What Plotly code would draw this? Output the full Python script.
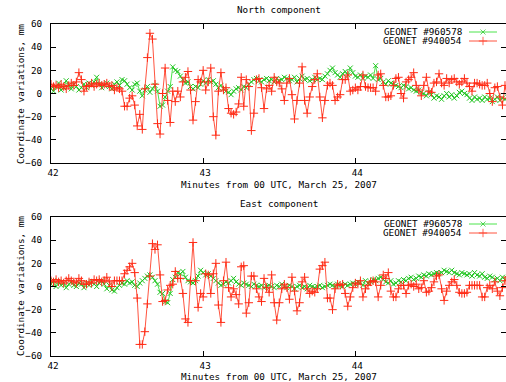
import plotly.graph_objects as go

W, H = 506, 382

# time base: one sample per second from 42:00 to 45:00 (minutes after 00 UTC)
seconds = list(range(181))
minutes = [42 + s / 60 for s in seconds]

north_960578 = [
    4, 2, 6, 9, 3, 5, 11, 7, 4, 8,
    6, 3, 5, 8, 5, 9, 7, 10, 14, 8,
    5, 7, 9, 6, 4, 8, 10, 7, 12, 11,
    8, 5, 3, 8, 9, 2, -2, 3, 6, 1,
    4, 7, 2, -11, -10, -3, 2, 6, 23, 20,
    19, 15, 12, 9, 10, 6, 4, 6, 5, 8,
    11, 9, 12, 10, 11, 8, 5, 7, 4, 2,
    1, -1, 2, 4, 5, 3, 6, 5, 8, 10,
    12, 13, 11, 10, 12, 13, 11, 12, 10, 13,
    11, 12, 14, 13, 11, 12, 14, 10, 13, 15,
    12, 13, 11, 12, 14, 12, 13, 12, 15, 17,
    20, 22, 18, 16, 14, 17, 19, 16, 22, 18,
    15, 14, 16, 13, 15, 14, 16, 13, 24, 12,
    13, 10, 8, 11, 9, 8, 7, 6, 5, 7,
    6, 4, 5, 3, 2, 3, 1, 0, -2, 1,
    -1, -4, -2, -3, -5, -2, 0, -3, -1, -4,
    -2, 1, 2, 0, -1, -4, -6, -3, -5, -4,
    -6, -3, -5, -4, -7, -5, -3, -6, -4, -5, -3,
]

north_940054 = [
    8, 6, 7, 5, 8, 6, 4, 7, 9, 7,
    10, 18, 12, 2, 6, 7, 9, 6, 8, 9,
    7, 8, 9, 6, 7, 3, 5, 4, 2, -11,
    -11, -4, -2, -10, -28, -18, -31, 4, 31, 52,
    47, 8, -26, -35, 0, 22, -6, -25, 2, -7,
    2, -3, 10, 14, 19, 3, -23, -7, 12, 10,
    20, 3, 10, 22, -20, -36, 2, 18, 3, 5,
    -13, -17, -18, -16, -9, 14, -11, 12, 6, -32,
    -17, 12, 13, 5, -13, 4, 7, 2, 14, 10,
    9, 4, -6, 9, 13, -1, -22, -6, 9, 23,
    -6, -17, -3, 6, 12, 17, -3, -21, -6, 7,
    9, 7, -6, -3, -1, 12, 12, 16, 2, 3,
    5, 3, 6, 16, 6, 5, 5, 5, 2, 16,
    17, 7, -3, -3, -2, 7, 13, 14, 0, -4,
    10, 12, 14, 18, 7, 3, -2, 7, 14, 2,
    1, 9, 10, 17, 9, 7, 13, 9, 12, 13,
    10, 8, 10, 13, 9, 6, 2, 9, 9, 8,
    7, 7, 9, 0, -7, 5, 6, -3, -10, 7, -4,
]

east_960578 = [
    2, 5, 0, 4, 1, 3, -1, 2, 4, 1,
    0, 3, 2, -1, 3, 1, 4, 2, 0, 3,
    5, 2, -2, 1, -3, -4, -1, 1, 3, 2,
    5, 3, 4, 1, 0, 3, 5, 7, 9, 10,
    8, 5, 2, -5, -6, -13, -14, -6, 6, 8,
    12, 11, 13, 8, 5, 4, 3, 5, 9, 14,
    12, 10, 11, 9, 7, 5, 3, 1, 2, 4,
    3, 5, 7, 4, 2, 1, 3, 2, 1, 0,
    2, 1, 0, 1, -1, 0, 1, 0, -1, 1,
    0, 2, 0, -1, 1, 0, -2, 0, 1, -1,
    0, -2, 1, 0, -1, 0, 1, -1, 0, 1,
    2, 1, 0, 2, 1, 0, 2, 1, 2, 3,
    2, 4, 3, 1, 5, 3, 4, 6, 5, 7,
    8, 6, 4, 3, 5, 2, 3, 5, 4, 6,
    5, 7, 8, 6, 7, 9, 8, 10, 9, 11,
    10, 11, 12, 11, 12, 14, 13, 12, 14, 12,
    11, 10, 12, 11, 10, 11, 9, 12, 10, 9,
    11, 8, 7, 9, 8, 6, 7, 5, 8, 6, 7,
]

east_940054 = [
    5, 4, 6, 4, 5, 3, 5, 7, 5, 4,
    3, 7, 5, 2, 2, 4, 3, 6, 5, 6,
    4, 5, 8, 4, 0, 5, 5, 5, 5, 11,
    14, 17, 20, 12, -10, -50, -50, -39, -15, 9,
    37, 32, 36, 10, -13, -12, -3, 1, 2, 13,
    7, 7, -6, -28, -31, 5, 38, 5, -18, -6,
    -9, 11, 10, -6, 11, 20, -16, -31, 5, 21,
    -1, -9, -2, -7, -15, 17, 18, -23, -14, 9,
    9, -2, -9, -13, 7, -1, -5, 10, -14, -29,
    -14, -2, 2, -1, -11, 8, -4, -21, -14, 4,
    8, -2, -6, -4, -5, -2, 15, 18, 21, -10,
    -10, -20, -2, 2, 1, 2, -6, -17, -9, -1,
    3, 2, 5, -9, -2, 1, 4, 5, 4, -9,
    1, 10, 7, 12, -4, -9, -9, -2, 1, 1,
    -6, 1, 2, 0, 2, -2, -1, 5, -5, -4,
    -1, 4, 9, 10, -2, -12, -4, 1, 4, 6,
    1, -5, -6, -6, -5, 1, 1, 1, 1, 1,
    -9, -9, -1, 1, -2, 4, -4, -8, -1, 5, 8,
]

series_names = ["GEONET #960578", "GEONET #940054"]
panel_titles = ["North component", "East component"]
x_title = "Minutes from 00 UTC, March 25, 2007"
y_title = "Coordinate variations, mm"
x_ticks = [42, 43, 44]
y_ticks = [-60, -40, -20, 0, 20, 40, 60]

FONT = "DejaVu Sans Mono"
FS = 9.3
GREEN_LINE, GREEN_MK = "#4ce44c", "#22c422"
RED_LINE, RED_MK = "#ff5440", "#ff2a14"

green_style = dict(mode="lines+markers",
                   line=dict(color=GREEN_LINE, width=1),
                   marker=dict(symbol="x-thin", size=5, color=GREEN_MK,
                               line=dict(color=GREEN_MK, width=1)))
red_style = dict(mode="lines+markers",
                 line=dict(color=RED_LINE, width=1),
                 marker=dict(symbol="cross-thin", size=6, color=RED_MK,
                             line=dict(color=RED_MK, width=1)))

fig = go.Figure()
panels = [("x", "y", north_960578, north_940054),
          ("x2", "y2", east_960578, east_940054)]
for xa, ya, g, r in panels:
    fig.add_trace(go.Scatter(x=minutes, y=g, xaxis=xa, yaxis=ya, name=series_names[0],
                             showlegend=False, **green_style))
    fig.add_trace(go.Scatter(x=minutes, y=r, xaxis=xa, yaxis=ya, name=series_names[1],
                             showlegend=False, **red_style))

# empty traces so the right-hand mirrored tick axes get drawn
fig.add_trace(go.Scatter(x=[], y=[], xaxis="x", yaxis="y3", showlegend=False))
fig.add_trace(go.Scatter(x=[], y=[], xaxis="x2", yaxis="y4", showlegend=False))

# legend keys (gnuplot style: text left, sample right) on a pixel-space overlay axis
legend_rows = [(32, 0), (41, 1), (224, 0), (233, 1)]
for py, k in legend_rows:
    st = green_style if k == 0 else red_style
    mk = dict(st["marker"])
    mk["size"] = [0, mk["size"], 0]
    fig.add_trace(go.Scatter(x=[469, 483, 497], y=[py, py, py], xaxis="x5", yaxis="y5",
                             mode="lines+markers", line=st["line"], marker=mk,
                             showlegend=False, hoverinfo="skip"))

tickfont = dict(family=FONT, size=FS, color="black")
xcommon = dict(range=[42, 44.99], tickvals=x_ticks, ticks="inside", ticklen=5,
               tickcolor="black", showline=True, linecolor="black", linewidth=1,
               mirror="ticks", showgrid=False, zeroline=False, tickfont=tickfont,
               ticklabelstandoff=1, ticklabelshift=2, domain=[51 / W, 1],
               automargin=False)
ycommon = dict(range=[-60, 60], tickvals=y_ticks, ticks="inside", ticklen=5,
               tickcolor="black", showline=True, linecolor="black", linewidth=1,
               showgrid=False, zeroline=False, tickfont=tickfont, ticklabelstandoff=6,
               automargin=False)
yright = dict(range=[-60, 60], tickvals=y_ticks, ticks="inside", ticklen=5,
              tickcolor="black", showline=False, showgrid=False, zeroline=False,
              showticklabels=False, side="right", automargin=False)

top_dom = [(H - 163) / H, (H - 24) / H]
bot_dom = [(H - 356) / H, (H - 217) / H]

fig.update_layout(
    template="none",
    width=W, height=H, autosize=False,
    margin=dict(l=0, r=0, t=0, b=0, pad=0, autoexpand=False),
    paper_bgcolor="white", plot_bgcolor="rgba(0,0,0,0)",
    showlegend=False,
    xaxis=dict(xcommon, anchor="y"),
    yaxis=dict(ycommon, domain=top_dom, anchor="x"),
    xaxis2=dict(xcommon, anchor="y2"),
    yaxis2=dict(ycommon, domain=bot_dom, anchor="x2"),
    yaxis3=dict(yright, overlaying="y", anchor="x"),
    yaxis4=dict(yright, overlaying="y2", anchor="x2"),
    xaxis5=dict(range=[0, W], domain=[0, 1], visible=False, anchor="y5",
                fixedrange=True, automargin=False),
    yaxis5=dict(range=[H, 0], domain=[0, 1], visible=False, anchor="x5",
                fixedrange=True, automargin=False),
)

ann = []
def add_text(text, px, py, xanchor="center", angle=0):
    ann.append(dict(text=text, x=px / W, y=1 - py / H, xref="paper", yref="paper",
                    xanchor=xanchor, yanchor="middle", showarrow=False, textangle=angle,
                    font=dict(family=FONT, size=FS, color="black")))

add_text(panel_titles[0], 279, 10)
add_text(panel_titles[1], 279, 203)
add_text(x_title, 279, 185)
add_text(x_title, 279, 376)
add_text(y_title, 20, 94, angle=-90)
add_text(y_title, 20, 286, angle=-90)
for py, k in legend_rows:
    add_text(series_names[k], 464, py, xanchor="right")
fig.update_layout(annotations=ann)

post = """
var gd = document.getElementById('{plot_id}');
document.documentElement.style.overflow='hidden';
document.body.style.margin='0';
document.body.style.overflow='hidden';
gd.style.position='fixed';
gd.style.left='0px';
gd.style.top='0px';
"""
fig.write_html("out.html", config={"displayModeBar": False}, post_script=post)
